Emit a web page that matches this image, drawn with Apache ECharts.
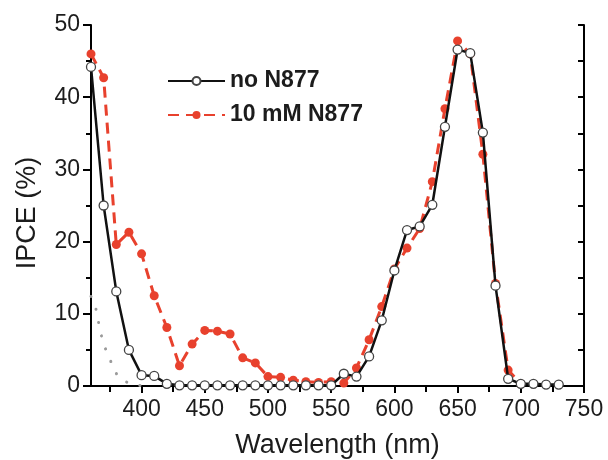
<!DOCTYPE html>
<html>
<head>
<meta charset="utf-8">
<script src="https://cdn.jsdelivr.net/npm/echarts@6/dist/echarts.min.js"></script>
<style>
  html, body { margin: 0; padding: 0; background: #fff; }
  #chart { width: 608px; height: 460px; }
</style>
</head>
<body>
<div id="chart"></div>
<script>
// Wavelengths (nm) sampled by both IPCE measurements
const wavelengthNo = [360, 370, 380, 390, 400, 410, 420, 430, 440, 450, 460, 470, 480, 490, 500,
  510, 520, 530, 540, 550, 560, 570, 580, 590, 600, 610, 620, 630, 640, 650, 660, 670, 680, 690,
  700, 710, 720, 730];
// IPCE (%) without N877
const ipceNo = [44.2, 25.0, 13.1, 5.0, 1.5, 1.4, 0.3, 0.1, 0.1, 0.1, 0.1, 0.1, 0.1, 0.1, 0.1,
  0.1, 0.1, 0.1, 0.1, 0.1, 1.7, 1.3, 4.1, 9.1, 16.0, 21.6, 22.1, 25.1, 35.9, 46.6, 46.1, 35.1, 13.9, 1.0,
  0.3, 0.3, 0.2, 0.2];

const wavelength10 = [360, 370, 380, 390, 400, 410, 420, 430, 440, 450, 460, 470, 480, 490, 500,
  510, 520, 530, 540, 550, 560, 570, 580, 590, 600, 610, 620, 630, 640, 650, 660, 670, 680, 690, 700];
// IPCE (%) with 10 mM N877
const ipce10 = [46.0, 42.7, 19.6, 21.3, 18.3, 12.5, 8.1, 2.8, 5.8, 7.7, 7.6, 7.2, 3.9, 3.2, 1.3,
  1.2, 0.8, 0.6, 0.5, 0.6, 0.4, 2.5, 6.4, 11.0, 16.2, 19.1, 21.8, 28.3, 38.4, 47.8, 46.0, 32.1, 14.2, 2.2, 0.3];

// Grey dotted baseline curve near the UV edge
const baseX = [360, 364, 366, 368.5, 372, 377, 382.5, 392, 400];
const baseY = [12.4, 10.6, 8.8, 6.8, 4.9, 2.9, 1.1, 0.3, 0.05];

// Axis ticks and labels
const xMajor = [400, 450, 500, 550, 600, 650, 700, 750];
const xMinor = [375, 425, 475, 525, 575, 625, 675, 725];
const xAll = [375, 400, 425, 450, 475, 500, 525, 550, 575, 600, 625, 650, 675, 700, 725, 750];

const seriesNames = ['no N877', '10 mM N877'];

const pairs = (xs, ys) => xs.map((x, i) => [x, ys[i]]);

const FONT = '"Liberation Sans", Arial, sans-serif';
const INK = '#1c1c1c';
const RED = '#e8412d';

const gridBox = { left: 91, right: 24, top: 25, bottom: 74, containLabel: false, outerBoundsMode: 'none' };

const chart = echarts.init(document.getElementById('chart'), null, { renderer: 'canvas' });
chart.setOption({
  animation: false,
  backgroundColor: '#fff',
  grid: [
    Object.assign({}, gridBox),
    Object.assign({}, gridBox)
  ],
  legend: {
    data: seriesNames,
    orient: 'vertical',
    left: 162,
    top: 64,
    itemWidth: 57,
    itemHeight: 10,
    itemGap: 10,
    textStyle: { fontFamily: FONT, fontSize: 23, fontWeight: 'bold', color: INK, lineHeight: 24 }
  },
  xAxis: [
    {
      type: 'value', gridIndex: 0, position: 'bottom', min: 360, max: 750,
      name: 'Wavelength (nm)', nameLocation: 'middle', nameGap: 46,
      nameTextStyle: { fontFamily: FONT, fontSize: 27, color: INK },
      axisLine: { show: true, lineStyle: { color: '#000', width: 2 } },
      axisTick: { show: true, customValues: xMajor, length: 7, lineStyle: { color: '#000', width: 2 } },
      axisLabel: { customValues: xMajor, fontFamily: FONT, fontSize: 23, color: INK, margin: 12 },
      splitLine: { show: false }
    },
    {
      type: 'value', gridIndex: 0, position: 'top', min: 360, max: 750,
      axisLine: { show: true, lineStyle: { color: '#000', width: 2 } },
      axisTick: { show: true, inside: true, customValues: xAll, length: 6, lineStyle: { color: '#000', width: 2 } },
      axisLabel: { show: false },
      splitLine: { show: false }
    },
    {
      type: 'value', gridIndex: 1, position: 'bottom', min: 360, max: 750,
      axisLine: { show: false },
      axisTick: { show: true, customValues: xMinor, length: 5, lineStyle: { color: '#000', width: 2 } },
      axisLabel: { show: false },
      splitLine: { show: false }
    }
  ],
  yAxis: [
    {
      type: 'value', gridIndex: 0, position: 'left', min: 0, max: 50, interval: 10,
      name: 'IPCE (%)', nameLocation: 'middle', nameGap: 50,
      nameTextStyle: { fontFamily: FONT, fontSize: 27, color: INK, padding: [0, 15, 0, 0] },
      axisLine: { show: true, lineStyle: { color: '#000', width: 2 } },
      axisTick: { show: true, length: 8, lineStyle: { color: '#000', width: 2 } },
      minorTick: { show: true, splitNumber: 2, length: 5, lineStyle: { color: '#000', width: 2 } },
      axisLabel: { fontFamily: FONT, fontSize: 23, color: INK, margin: 11 },
      splitLine: { show: false },
      minorSplitLine: { show: false }
    },
    {
      type: 'value', gridIndex: 0, position: 'right', min: 0, max: 50, interval: 5,
      axisLine: { show: true, lineStyle: { color: '#000', width: 2 } },
      axisTick: { show: true, inside: true, length: 6, lineStyle: { color: '#000', width: 2 } },
      axisLabel: { show: false },
      splitLine: { show: false }
    },
    {
      type: 'value', gridIndex: 1, min: 0, max: 50, show: false
    }
  ],
  series: [
    {
      name: 'baseline',
      type: 'line',
      xAxisIndex: 0, yAxisIndex: 0,
      data: pairs(baseX, baseY),
      smooth: 0.3,
      showSymbol: false,
      silent: true,
      lineStyle: { color: '#9a9a9a', width: 3, type: [0.1, 13.5], cap: 'round' },
      z: 1
    },
    {
      name: seriesNames[1],
      type: 'line',
      xAxisIndex: 0, yAxisIndex: 0,
      data: pairs(wavelength10, ipce10),
      symbol: 'circle',
      symbolSize: 9,
      showAllSymbol: true,
      itemStyle: { color: RED, borderWidth: 0 },
      lineStyle: { color: RED, width: 3, type: [11, 7] },
      z: 2
    },
    {
      name: seriesNames[0],
      type: 'line',
      xAxisIndex: 0, yAxisIndex: 0,
      data: pairs(wavelengthNo, ipceNo),
      symbol: 'circle',
      symbolSize: 9,
      showAllSymbol: true,
      itemStyle: { color: '#fff', borderColor: '#444', borderWidth: 1.3 },
      lineStyle: { color: '#111', width: 2.5 },
      z: 3
    }
  ]
});
</script>
</body>
</html>
